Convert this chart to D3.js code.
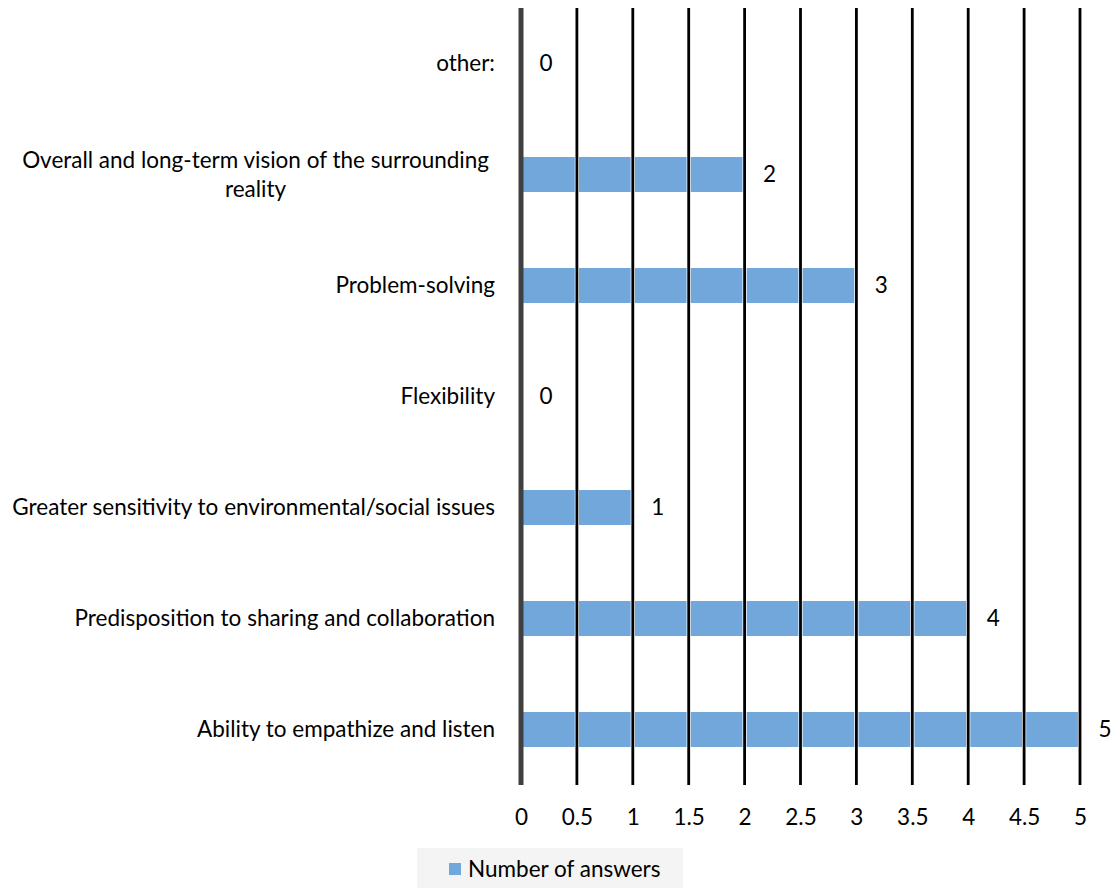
<!DOCTYPE html>
<html>
<head>
<meta charset="utf-8">
<script src="https://cdn.jsdelivr.net/npm/d3@7"></script>
<style>
  html, body { margin: 0; padding: 0; background: #fff; }
  svg { display: block; }
  text { font-family: Lato, "Open Sans", sans-serif; fill: #000; }
</style>
</head>
<body>
<svg id="chart" width="1111" height="888"></svg>
<script>
// Survey answers per skill (top to bottom)
const categories = [
  "other:",
  "Overall and long-term vision of the surrounding reality",
  "Problem-solving",
  "Flexibility",
  "Greater sensitivity to environmental/social issues",
  "Predisposition to sharing and collaboration",
  "Ability to empathize and listen"
];
const answers = [0, 2, 3, 0, 1, 4, 5];
const tickValues = [0, 0.5, 1, 1.5, 2, 2.5, 3, 3.5, 4, 4.5, 5];
const seriesName = "Number of answers";

const data = categories.map((c, i) => ({ category: c, value: answers[i] }));

const FONT_SIZE = "22.5px";
const svg = d3.select("#chart");
const margin = { top: 8, left: 521, right: 31, bottom: 103 };
const width = 1111, height = 888;
const innerW = width - margin.left - margin.right;
const innerH = height - margin.top - margin.bottom;

const x = d3.scaleLinear().domain([0, 5]).range([0, innerW]);
const y = d3.scaleBand().domain(categories).range([0, innerH])
  .paddingInner(0.685).paddingOuter(0.3425);

const g = svg.append("g").attr("transform", `translate(${margin.left},${margin.top})`);

// Bars
g.selectAll("rect.bar")
  .data(data)
  .join("rect")
  .attr("class", "bar")
  .attr("x", x(0))
  .attr("y", d => y(d.category))
  .attr("width", d => x(d.value) - x(0))
  .attr("height", y.bandwidth())
  .attr("fill", "#71a7da");

// Vertical gridlines drawn over the bars with a thin white halo
const grid = g.append("g");
const gridTicks = tickValues.filter(v => v > 0);
grid.selectAll("line.halo")
  .data(gridTicks)
  .join("line")
  .attr("class", "halo")
  .attr("x1", d => x(d)).attr("x2", d => x(d))
  .attr("y1", 0).attr("y2", innerH)
  .attr("stroke", "#fff").attr("stroke-width", 4.2);
grid.selectAll("line.grid")
  .data(gridTicks)
  .join("line")
  .attr("class", "grid")
  .attr("x1", d => x(d)).attr("x2", d => x(d))
  .attr("y1", 0).attr("y2", innerH)
  .attr("stroke", "#000").attr("stroke-width", 2.8);

// Category axis line at zero
g.append("line")
  .attr("x1", x(0)).attr("x2", x(0))
  .attr("y1", 0).attr("y2", innerH)
  .attr("stroke", "#404040").attr("stroke-width", 5);

// Value axis tick labels
const xAxis = d3.axisBottom(x).tickValues(tickValues).tickSize(0).tickPadding(0)
  .tickFormat(d => String(d));
const xg = g.append("g").attr("transform", `translate(0,${innerH + 32})`).call(xAxis);
xg.select(".domain").remove();
xg.selectAll("text")
  .attr("dy", "0.35em")
  .style("font-family", "Lato, 'Open Sans', sans-serif")
  .style("font-size", FONT_SIZE)
  .attr("fill", "#000");

// Value labels at bar ends
g.selectAll("text.value")
  .data(data)
  .join("text")
  .attr("class", "value")
  .attr("x", d => x(d.value) + 25)
  .attr("y", d => y(d.category) + y.bandwidth() / 2)
  .attr("dy", "0.35em")
  .attr("text-anchor", "middle")
  .style("font-size", FONT_SIZE)
  .text(d => d.value);

// Category labels, right aligned; long labels wrap into centered lines
const maxLabelW = 485;
const labelRight = -26;
const labelRightWrapped = -32;
const labels = g.selectAll("g.cat")
  .data(data)
  .join("g")
  .attr("class", "cat")
  .attr("transform", d => `translate(0,${y(d.category) + y.bandwidth() / 2})`);

labels.each(function (d) {
  const sel = d3.select(this);
  const measure = s => {
    const tmp = sel.append("text").style("font-size", FONT_SIZE).text(s);
    const w = tmp.node().getComputedTextLength();
    tmp.remove();
    return w;
  };
  let lines = [];
  if (measure(d.category) <= maxLabelW) {
    lines = [d.category];
  } else {
    let cur = [];
    for (const w of d.category.split(" ")) {
      const trial = cur.concat(w).join(" ");
      if (measure(trial) > maxLabelW && cur.length) {
        lines.push(cur.join(" "));
        cur = [w];
      } else {
        cur.push(w);
      }
    }
    if (cur.length) lines.push(cur.join(" "));
  }
  const lh = 29;
  const blockW = d3.max(lines, measure);
  const cx = labelRightWrapped - blockW / 2;
  lines.forEach((l, i) => {
    sel.append("text")
      .style("font-size", FONT_SIZE)
      .attr("text-anchor", lines.length > 1 ? "middle" : "end")
      .attr("x", lines.length > 1 ? cx : labelRight)
      .attr("y", (i - (lines.length - 1) / 2) * lh)
      .attr("dy", "0.35em")
      .text(l);
  });
});

// Legend
const legend = svg.append("g").attr("transform", "translate(417,848)");
legend.append("rect").attr("width", 266).attr("height", 40).attr("fill", "#f4f4f4");
legend.append("rect").attr("x", 32).attr("y", 15).attr("width", 12).attr("height", 12).attr("fill", "#71a7da");
legend.append("text").attr("x", 51).attr("y", 21).attr("dy", "0.35em")
  .style("font-size", FONT_SIZE).text(seriesName);
</script>
</body>
</html>
